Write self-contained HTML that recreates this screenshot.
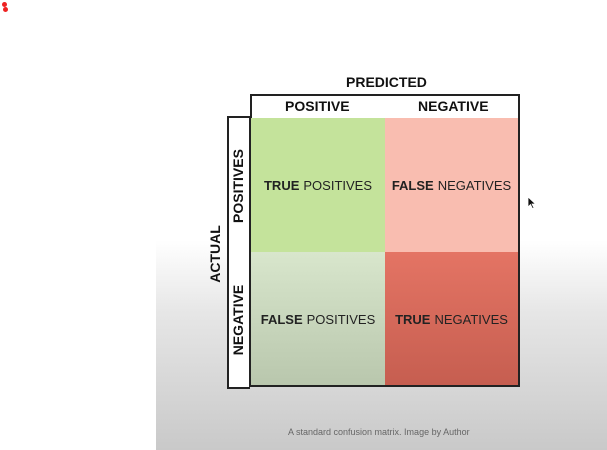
<!DOCTYPE html>
<html><head><style>
body{margin:0;width:607px;height:450px;position:relative;overflow:hidden;background:#fff;font-family:"Liberation Sans",sans-serif;}
.a{position:absolute}
.bg{left:156px;top:240px;width:451px;height:210px;background:linear-gradient(#fff 0%,#e6e6e6 35%,#c9c9c9 100%);}
.c{position:absolute;display:flex;align-items:center;justify-content:center;font-size:13px;color:#222;white-space:nowrap}
.c b{margin-right:4px}
.h{font-weight:bold;font-size:14px;color:#111;position:absolute;white-space:nowrap}
.r{transform:translate(-50%,-50%) rotate(-90deg)}
</style></head><body>
<div class="a" style="left:2px;top:2px;width:5px;height:5px;border-radius:50%;background:#e22"></div>
<div class="a" style="left:3px;top:7px;width:5px;height:5px;border-radius:50%;background:#e22"></div>
<div class="a bg"></div>
<div class="h" style="left:346px;top:74px">PREDICTED</div>
<div class="a" style="left:250px;top:94px;width:266px;height:22px;border:2px solid #222;background:#fff"></div>
<div class="h" style="left:285px;top:98px">POSITIVE</div>
<div class="h" style="left:418px;top:98px">NEGATIVE</div>
<div class="a" style="left:227px;top:116px;width:21px;height:269px;border:2px solid #222;border-right:none;background:#fff"></div>
<div class="a" style="left:249px;top:116px;width:271px;height:271px;border:2px solid #222;border-top:none;box-sizing:border-box"></div>
<div class="c" style="left:251px;top:118px;width:134px;height:134px;padding-top:1px;box-sizing:border-box;background:#c4e39b"><b>TRUE</b>POSITIVES</div>
<div class="c" style="left:385px;top:118px;width:133px;height:134px;padding-top:1px;box-sizing:border-box;background:#f9bdb0"><b>FALSE</b>NEGATIVES</div>
<div class="c" style="left:251px;top:252px;width:134px;height:133px;padding-top:2px;box-sizing:border-box;background:linear-gradient(#d8e6cc,#b9c7ad)"><b>FALSE</b>POSITIVES</div>
<div class="c" style="left:385px;top:252px;width:133px;height:133px;padding-top:2px;box-sizing:border-box;background:linear-gradient(#e47464,#c65e50)"><b>TRUE</b>NEGATIVES</div>
<div class="h r" style="left:215px;top:254px">ACTUAL</div>
<div class="h r" style="left:238px;top:186px">POSITIVES</div>
<div class="h r" style="left:238px;top:320px">NEGATIVE</div>
<div class="a" style="left:288px;top:427px;font-size:9px;color:#666">A standard confusion matrix. Image by Author</div>
<svg class="a" style="left:527px;top:196px" width="10" height="14"><path d="M1 1 L1 11 L3.5 8.5 L5.5 12.5 L7 12 L5 8 L8.5 8 Z" fill="#111" stroke="#fff" stroke-width="0.8"/></svg>
</body></html>
